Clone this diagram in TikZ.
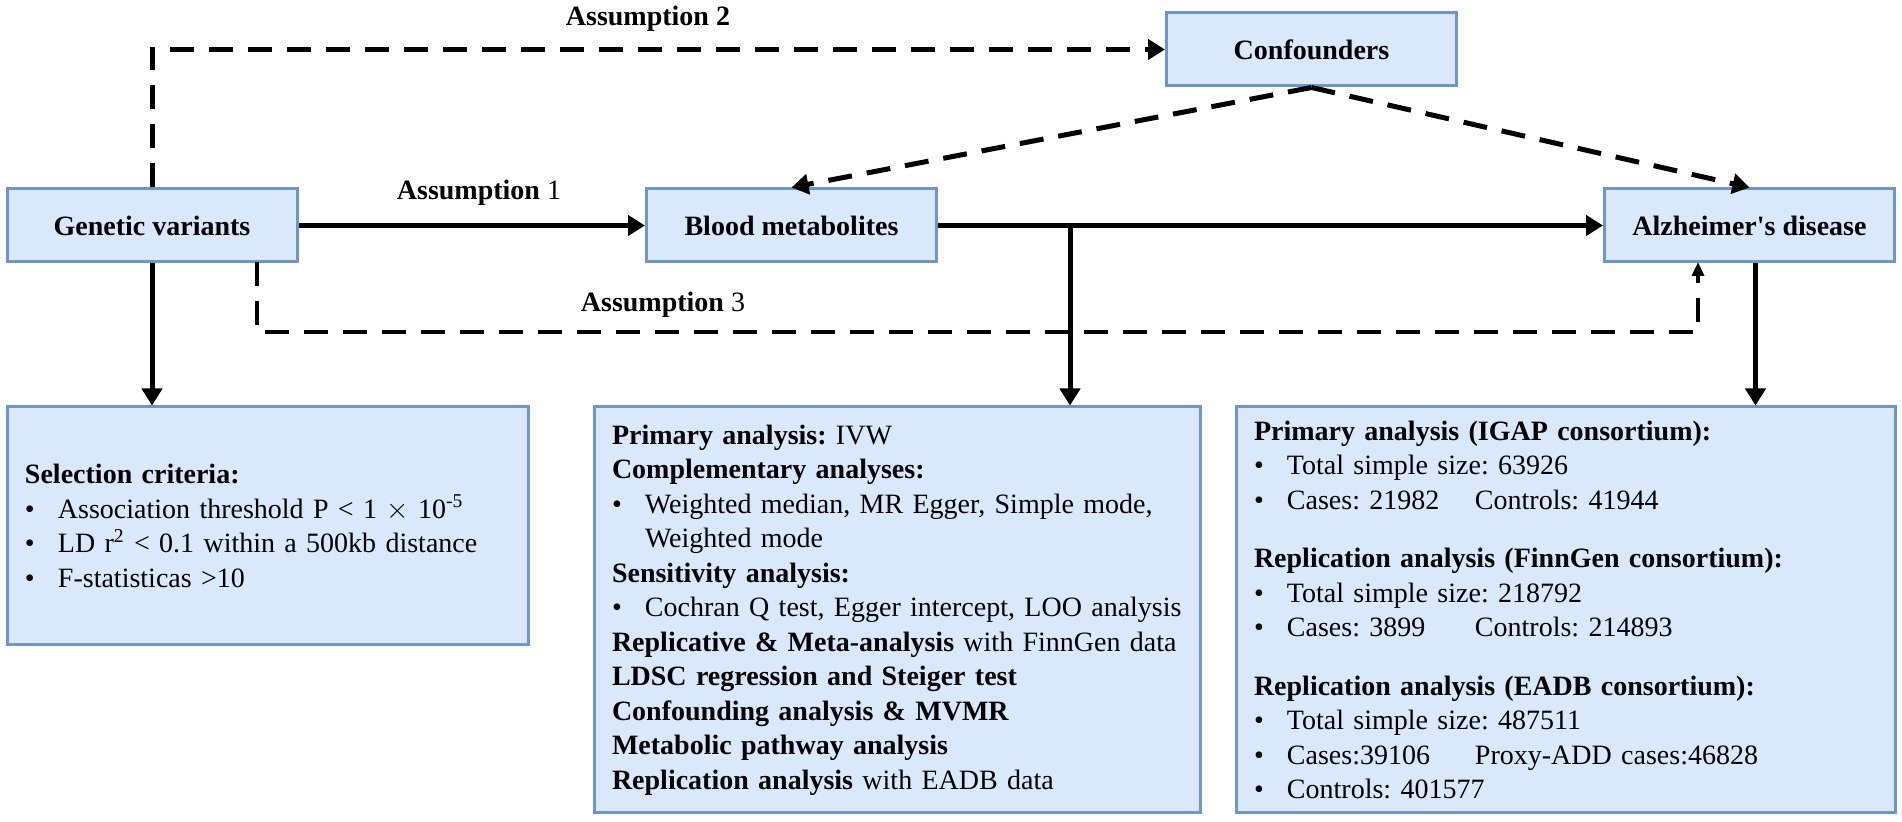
\documentclass[tikz,border=0pt]{standalone}
\usepackage{fontspec}
\setmainfont{Liberation Serif}
\usepackage{tikz}
\usetikzlibrary{arrows.meta, positioning}
\tikzset{>={Triangle[length=8.5pt,width=10pt]}}
\definecolor{boxfill}{RGB}{218,232,252}
\definecolor{boxline}{RGB}{108,150,205}
\newcommand{\bl}{\makebox[16.5pt][l]{\textbullet}}

\begin{document}
\frenchspacing\hyphenpenalty=10000 \exhyphenpenalty=10000
\begin{tikzpicture}[x=0.5pt, y=-0.5pt, line width=2.5pt,
	box/.style={draw=boxline, fill=boxfill, line width=1.5pt, font=\fontsize{14}{17}\selectfont\bfseries, minimum width=145pt, minimum height=36.5pt, inner sep=0pt},
	bigbox/.style={draw=boxline, fill=boxfill, line width=1.5pt, align=left, inner xsep=9pt, inner ysep=0pt, font=\fontsize{14}{17.25}\selectfont},
	lbl/.style={anchor=base, font=\fontsize{14}{17}\selectfont},
	dsh/.style={dash pattern=on 12pt off 7.5pt}]
		\useasboundingbox (0,0) rectangle (1902,822);
		\node[box] (gv) at (152,225.5) {Genetic variants};
		\node[box] (bm) at (791.5,225.5) {Blood metabolites};
		\node[box] (ad) at (1749.5,225.5) {Alzheimer\textquotesingle s disease};
		\node[box] (conf) at (1311.5,49.5) {Confounders};
		\node[bigbox, text width=242.5pt, minimum height=119pt] (sel) at (267.5,526) {\textbf{Selection criteria:}\\
			\bl Association threshold P < 1 $\times$ 10\textsuperscript{-5}\\
			\bl LD r\textsuperscript{2} < 0.1 within a 500kb distance\\
			\bl F-statisticas >10};
		\node[bigbox, text width=285pt, minimum height=203pt] (ana) at (897,610) {\textbf{Primary analysis:} IVW\\
			\textbf{Complementary analyses:}\\
			\bl Weighted median, MR Egger, Simple mode,\\
			\hspace*{16.5pt}Weighted mode\\
			\textbf{Sensitivity analysis:}\\
			\bl Cochran Q test, Egger intercept, LOO analysis\\
			\textbf{Replicative \& Meta-analysis} with FinnGen data\\
			\textbf{LDSC regression and Steiger test}\\
			\textbf{Confounding analysis \& MVMR}\\
			\textbf{Metabolic pathway analysis}\\
			\textbf{Replication analysis} with EADB data};
		\node[bigbox, text width=311.5pt, minimum height=203pt] (data) at (1565.5,610) {\textbf{Primary analysis (IGAP consortium):}\\
			\bl Total simple size: 63926\\
			\bl \makebox[94pt][l]{Cases: 21982}Controls: 41944\\[12pt]
			\textbf{Replication analysis (FinnGen consortium):}\\
			\bl Total simple size: 218792\\
			\bl \makebox[94pt][l]{Cases: 3899}Controls: 214893\\[12pt]
			\textbf{Replication analysis (EADB consortium):}\\
			\bl Total simple size: 487511\\
			\bl \makebox[94pt][l]{Cases:39106}Proxy-ADD cases:46828\\
			\bl Controls: 401577};
		\node[lbl] (a1) at (479,200) {\textbf{Assumption} 1};
		\node[lbl] (a2) at (648,26) {\textbf{Assumption 2}};
		\node[lbl] (a3) at (663,312) {\textbf{Assumption} 3};
		\coordinate (jn) at (1070,225.5);
		\coordinate (a3s) at (257,262); \coordinate (a3t) at (1698,262);
		\draw[->] (gv) -- (bm); \draw[->] (bm) -- (ad);
		\draw[dsh,->] (gv.north) |- (conf.west);
		\draw[dsh,->] (conf.south) -- (bm.north); \draw[dsh,->] (conf.south) -- (ad.north);
		\draw[dsh,line width=2pt,-{Triangle[length=7pt,width=6pt]}] (a3s) -- ++(0,70) -| (a3t);
		\draw[->] (gv.south) -- (gv.south |- sel.north);
		\draw[->] (jn) -- (jn |- ana.north);
		\draw[->] ([xshift=3pt]ad.south) -- ([xshift=3pt]ad.south |- data.north);
		%\node at (897,800){};
\end{tikzpicture}
\end{document}
